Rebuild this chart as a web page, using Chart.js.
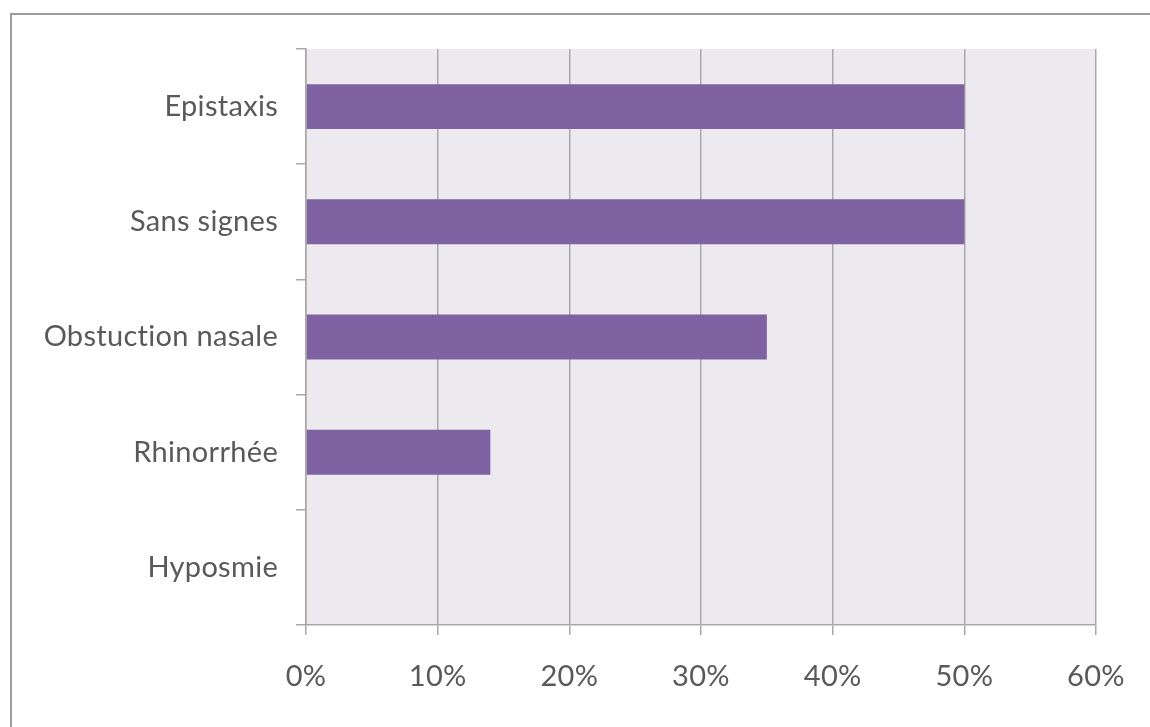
<!DOCTYPE html>
<html>
<head>
<meta charset="utf-8">
<script src="https://cdn.jsdelivr.net/npm/chart.js@4.4.1/dist/chart.umd.min.js"></script>
<style>
    html, body { margin: 0; padding: 0; background: #fff; }
    #wrap { position: relative; width: 1150px; height: 727px; }
    #frame {
        position: absolute; left: 10px; top: 13px; right: -10px; bottom: -10px;
        border-left: 2px solid #9c9c9c; border-top: 2px solid #9c9c9c;
        pointer-events: none;
    }
</style>
</head>
<body>
<div id="wrap">
    <canvas id="symChart" width="1150" height="727"></canvas>
    <div id="frame"></div>
</div>
<script>
const categories = ['Epistaxis', 'Sans signes', 'Obstuction nasale', 'Rhinorrhée', 'Hyposmie'];
const percentValues = [50, 50, 35, 14, 0];
const axisMax = 60;
const axisStep = 10;

const plotBackground = {
    id: 'plotBackground',
    beforeDraw(chart) {
        const { ctx, chartArea } = chart;
        // small letter spacing also stops the "ti" ligature of Lato
        ctx.letterSpacing = '0.3px';
        ctx.save();
        ctx.fillStyle = '#eceaef';
        ctx.fillRect(chartArea.left, chartArea.top, chartArea.right - chartArea.left, chartArea.bottom - chartArea.top);
        ctx.restore();
    }
};

const gridColor = '#a8a8a8';
const labelFont = { family: 'Lato', size: 29 };

new Chart(document.getElementById('symChart').getContext('2d'), {
    type: 'bar',
    data: {
        labels: categories,
        datasets: [{
            data: percentValues,
            backgroundColor: '#7e62a1',
            borderWidth: 0,
            categoryPercentage: 1,
            barPercentage: 0.39
        }]
    },
    options: {
        indexAxis: 'y',
        responsive: false,
        animation: false,
        layout: { padding: { top: 49, right: 54, left: 0, bottom: 0 } },
        plugins: {
            legend: { display: false },
            tooltip: { enabled: false }
        },
        scales: {
            x: {
                min: 0,
                max: axisMax,
                afterFit(scale) { scale.height = 102; },
                grid: { color: gridColor, lineWidth: 1.5, tickLength: 10 },
                border: { color: gridColor, width: 1.5 },
                ticks: {
                    stepSize: axisStep,
                    color: '#595959',
                    font: labelFont,
                    padding: 24,
                    callback: v => v + '%'
                }
            },
            y: {
                afterFit(scale) { scale.width = 306; },
                grid: { drawOnChartArea: false, color: gridColor, lineWidth: 1.5, tickLength: 10, offset: true },
                border: { color: gridColor, width: 1.5 },
                ticks: { color: '#595959', font: labelFont, padding: 18 }
            }
        }
    },
    plugins: [plotBackground]
});
</script>
</body>
</html>
